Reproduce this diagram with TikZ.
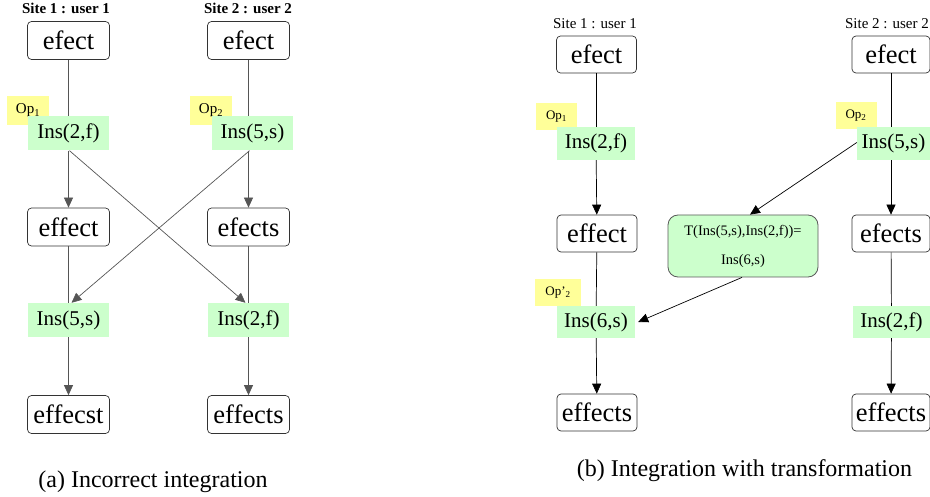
\documentclass[tikz,border=0pt]{standalone}
\usepackage{fontspec}
\setmainfont{Liberation Serif}
\usetikzlibrary{arrows.meta}
\definecolor{opgreen}{HTML}{CCFFCC}
\definecolor{opyellow}{HTML}{FFFF99}
\definecolor{lineA}{HTML}{555555}
\begin{document}
\begin{tikzpicture}[x=1pt,y=-1pt,
  state/.style={draw=black!80,rounded corners=4pt,fill=white,line width=0.7pt,inner sep=0pt,
     font=\fontsize{26.5}{28}\selectfont,minimum width=82pt,minimum height=38pt},
  stateb/.style={state,minimum width=80pt,minimum height=37pt},
  opbox/.style={fill=opgreen,inner sep=0pt,font=\fontsize{21}{23}\selectfont,minimum width=81pt,minimum height=34pt},
  opboxb/.style={opbox,minimum width=78pt,minimum height=33pt},
  tag/.style={fill=opyellow,inner sep=0pt,font=\fontsize{15}{17}\selectfont,minimum width=42pt,minimum height=29pt},
  tagb/.style={tag,font=\fontsize{13}{15}\selectfont,minimum width=41pt,minimum height=27pt},
  site/.style={inner sep=0pt,font=\bfseries\fontsize{15}{17}\selectfont},
  siteb/.style={inner sep=0pt,font=\fontsize{15}{17}\selectfont},
  caption/.style={inner sep=0pt,font=\fontsize{24}{26}\selectfont},
  lna/.style={draw=lineA,line width=0.7pt},
  lnb/.style={draw=black,line width=0.7pt},
  arr/.style={-{Triangle[length=10pt,width=9pt]}},
  tbox/.style={draw=black!65,rounded corners=10pt,fill=opgreen,line width=0.8pt,inner sep=0pt,
     minimum width=150pt,minimum height=62pt,align=center,font=\fontsize{14.5}{29}\selectfont}
]
\path[use as bounding box] (0,0) rectangle (930,497);

% ---------- (a) ----------
\node[site] (s1a) at (66,8) {Site 1 : user 1};
\node[site] (s2a) at (248,8) {Site 2 : user 2};
\node[state] (a1) at (68.5,40.5) {efect};
\node[state] (a2) at (248.5,40.5) {efect};
\node[tag] (t1a) at (28,110.5) {Op\textsubscript{1}};
\node[tag] (t2a) at (211,110.5) {Op\textsubscript{2}};
\node[opbox] (ia1) at (68.5,133.5) {Ins(2,f)};
\node[opbox] (ia2) at (252.5,133.5) {Ins(5,s)};
\node[state] (a3) at (68.5,227) {effect};
\node[state] (a4) at (248.5,227) {efects};
\node[opbox] (ia3) at (68.5,320) {Ins(5,s)};
\node[opbox] (ia4) at (248.5,320) {Ins(2,f)};
\node[state] (a5) at (68.5,414.5) {effecst};
\node[state] (a6) at (248.5,414.5) {effects};
\node[caption] (capa) at (153,482) {(a) Incorrect integration};

\draw[lna] (a1) -- (a1 |- ia1.north);
\draw[lna] (a2) -- (a2 |- ia2.north);
\draw[lna,arr] (ia1) -- (a3);
\draw[lna,arr] (a2 |- ia2.south) -- (a4);
\draw[lna] (a3) -- (ia3);
\draw[lna] (a4) -- (ia4);
\draw[lna,arr] (ia3) -- (a5);
\draw[lna,arr] (ia4) -- (a6);
\draw[lna,arr] ([xshift=1pt]ia1.south) -- ([xshift=-3pt]ia4.north);
\draw[lna,arr] ([xshift=-3pt]ia2.south) -- ([xshift=3pt]ia3.north);

% ---------- (b) ----------
\node[siteb] (s1b) at (595,24) {Site 1 : user 1};
\node[siteb] (s2b) at (887,24) {Site 2 : user 2};
\node[stateb] (b1) at (596.5,54.5) {efect};
\node[stateb,minimum width=78pt] (b2) at (891,54.5) {efect};
\node[tagb] (t1b) at (556.5,116.5) {Op\textsubscript{1}};
\node[tagb] (t2b) at (856,116) {Op\textsubscript{2}};
\node[opboxb] (ib1) at (596,143.5) {Ins(2,f)};
\node[opboxb,minimum width=73pt] (ib2) at (893.5,143.5) {Ins(5,s)};
\node[stateb] (b3) at (597,233.5) {effect};
\node[tbox] (tt) at (743,246) {T(Ins(5,s),Ins(2,f))=\\Ins(6,s)};
\node[stateb,minimum width=78pt] (b4) at (891,233.5) {efects};
\node[tagb,minimum width=46pt] (t3b) at (558,292.5) {Op’\textsubscript{2}};
\node[opboxb,minimum height=32pt] (ib3) at (596,322) {Ins(6,s)};
\node[opboxb,minimum width=77pt,minimum height=32pt] (ib4) at (891.5,322) {Ins(2,f)};
\node[stateb] (b5) at (597,412.5) {effects};
\node[stateb,minimum width=78pt] (b6) at (891,412.5) {effects};
\node[caption] (capb) at (744.5,471) {(b) Integration with transformation};

\draw[lnb] (b1) -- (b1 |- ib1.north);
\draw[lnb] (b2) -- (b2 |- ib2.north);
\draw[lnb,arr] (ib1) -- (b3);
\draw[lnb,arr] (b2 |- ib2.south) -- (b4);
\draw[lnb] (b3) -- (ib3);
\draw[lnb] (b4) -- (ib4);
\draw[lnb,arr] (ib3) -- (b5);
\draw[lnb,arr] (ib4) -- (b6);
\draw[lnb,arr] ([yshift=1pt]ib2.west) -- ([xshift=7pt]tt.north);
\draw[lnb,arr] ([xshift=-1pt]tt.south) -- ([xshift=3pt]ib3.east);
\end{tikzpicture}
\end{document}
